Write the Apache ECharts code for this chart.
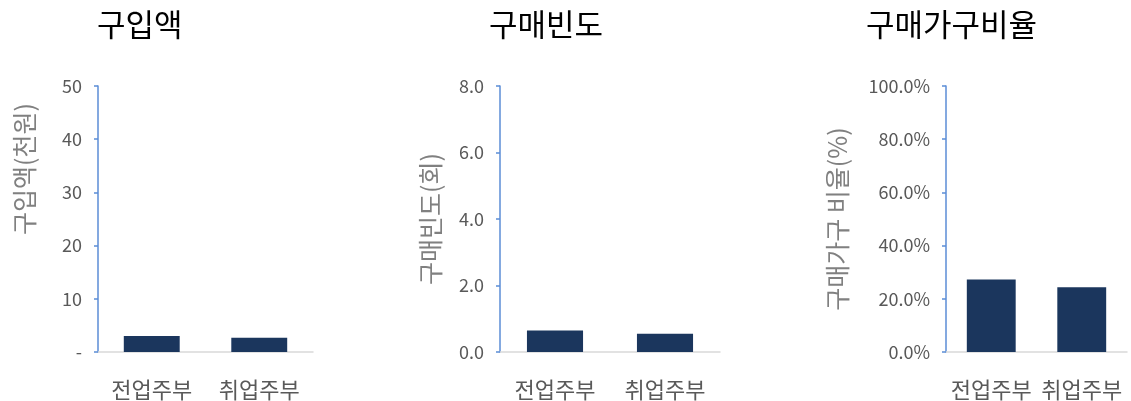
<!DOCTYPE html>
<html>
<head>
<meta charset="utf-8">
<title>구입액 · 구매빈도 · 구매가구비율</title>
<script src="https://cdn.jsdelivr.net/npm/echarts@6/dist/echarts.min.js"></script>
<style>
  html, body { margin: 0; padding: 0; background: #fff; }
  #chart { width: 1131px; height: 401px; }
</style>
</head>
<body>
<div id="chart"></div>
<script>
// data
const categories = ['전업주부', '취업주부'];
const titles = ['구입액', '구매빈도', '구매가구비율'];
const axisNames = ['구입액(천원)', '구매빈도(회)', '구매가구 비율(%)'];
const amountValues = [3.0, 2.7];      // 천원
const freqValues = [0.65, 0.55];      // 회
const ratioValues = [0.273, 0.243];   // 비율

const KR = '"Noto Sans CJK KR", "Noto Sans", sans-serif';
const barColor = '#1b365d';
const yLineColor = '#5b8dd6';
const xLineColor = '#d9d9d9';
const labelColor = '#595959';

function makeY(idx, max, interval, fmt, gap, pad) {
  return {
    type: 'value',
    gridIndex: idx,
    min: 0,
    max: max,
    interval: interval,
    name: axisNames[idx],
    nameLocation: 'middle',
    nameRotate: 90,
    nameGap: gap,
    nameTextStyle: { fontFamily: KR, fontSize: 25, color: '#808080', padding: pad },
    axisLine: { show: true, lineStyle: { color: yLineColor, width: 1.5 } },
    axisTick: { show: true, length: 4, lineStyle: { color: yLineColor, width: 1.5 } },
    axisLabel: { formatter: fmt, fontFamily: KR, fontSize: 18, color: labelColor, margin: 16 },
    splitLine: { show: false }
  };
}

function makeX(idx) {
  return {
    type: 'category',
    gridIndex: idx,
    data: categories,
    axisLine: { show: true, lineStyle: { color: xLineColor, width: 1.5 } },
    axisTick: { show: false },
    axisLabel: { interval: 0, hideOverlap: false, fontFamily: KR, fontSize: 22, color: labelColor, margin: 27 }
  };
}

function makeBar(idx, values, width) {
  return {
    type: 'bar',
    xAxisIndex: idx,
    yAxisIndex: idx,
    data: values,
    barWidth: width,
    itemStyle: { color: barColor },
    silent: true
  };
}

const chart = echarts.init(document.getElementById('chart'), null, { renderer: 'canvas' });

const option = {
  animation: false,
  backgroundColor: '#fff',
  title: [
    { text: titles[0], left: 92, top: 4 },
    { text: titles[1], left: 484, top: 4 },
    { text: titles[2], left: 861, top: 4 }
  ].map(t => Object.assign(t, {
    textStyle: { fontFamily: KR, fontSize: 31, fontWeight: 'normal', color: '#000' }
  })),
  grid: [
    { left: 98, right: 818, top: 86, bottom: 48 },
    { left: 500, right: 411, top: 86, bottom: 49 },
    { left: 946, right: 4, top: 86, bottom: 49 }
  ],
  xAxis: [makeX(0), makeX(1), makeX(2)],
  yAxis: [
    makeY(0, 50, 10, v => (v === 0 ? '-' : String(v)), 61, [0, 0, 0, 100]),
    makeY(1, 8, 2, v => v.toFixed(1), 57, 0),
    makeY(2, 1, 0.2, v => (v * 100).toFixed(1) + '%', 96, 0)
  ],
  series: [
    makeBar(0, amountValues, '52%'),
    makeBar(1, freqValues, '51%'),
    makeBar(2, ratioValues, '54%')
  ]
};

chart.setOption(option);
window.addEventListener('resize', () => chart.resize());
</script>
</body>
</html>
